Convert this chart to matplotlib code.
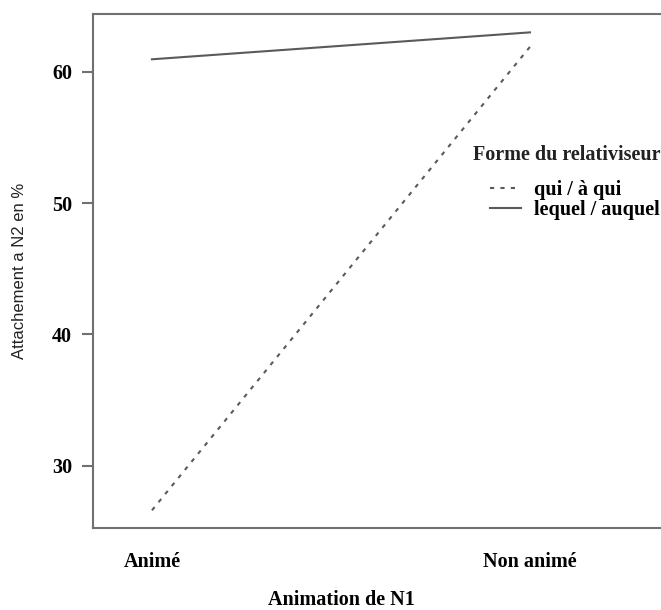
import matplotlib
matplotlib.use("Agg")
import matplotlib.pyplot as plt
import matplotlib.transforms as mtransforms

# données
niveaux_n1 = ["Animé", "Non animé"]
qui_a_qui = [26.6, 61.9]
lequel_auquel = [60.95, 63.0]
y_ticks = [30, 40, 50, 60]

serif = "Liberation Serif"
gris = "#5a5a5a"

fig = plt.figure(figsize=(6.61, 6.10), dpi=100)
W, H = 661, 610
# axes: left 93 px, top 14 px, bottom 528 px, right beyond the picture
ax = fig.add_axes([93 / W, (H - 528) / H, 664 / W, (528 - 14) / H])

x = [1, 2]
ax.plot(x, qui_a_qui, color=gris, lw=1.5, linestyle=(0, (2, 3)),
        label="qui / à qui")
ax.plot(x, lequel_auquel, color=gris, lw=1.5, linestyle="-",
        label="lequel / auquel")

ax.set_xlim(0.844, 0.844 + 664 / 378)
ax.set_ylim(25.25, 64.4)

for s in ax.spines.values():
    s.set_color("#707070")
    s.set_linewidth(1.5)

ax.set_xticks(x)
ax.set_xticklabels(niveaux_n1, fontfamily=serif, fontweight="bold", fontsize=14.5)
ax.tick_params(axis="x", length=0, pad=17)
ax.set_yticks(y_ticks)
ax.set_yticklabels([str(v) for v in y_ticks], fontfamily=serif,
                   fontweight="bold", fontsize=14.5)
ax.tick_params(axis="y", length=8, width=1.5, color="#707070", pad=7)

ax.set_ylabel("Attachement a N2 en %", fontfamily="Liberation Sans",
              fontsize=12, color="#222222")
ax.yaxis.set_label_coords(-(93 - 27) / 664, 0.5)

trans = mtransforms.blended_transform_factory(ax.transData, ax.transAxes)
ax.text(1.5, -(600 - 528) / 514, "Animation de N1", transform=trans,
        ha="center", va="center", fontfamily=serif, fontweight="bold",
        fontsize=14.5)

# titre de la légende
ax.text((473 - 93) / 664, 1 - (155 - 14) / 514, "Forme du relativiseur",
        transform=ax.transAxes, ha="left", va="center", fontfamily=serif,
        fontweight="bold", fontsize=14.5, color="#222222")
ax.legend(loc="upper left", bbox_to_anchor=((490 - 93) / 664, 1 - (180 - 14) / 514),
          frameon=False, borderpad=0, borderaxespad=0,
          handlelength=1.55, handletextpad=0.65, labelspacing=0.0,
          prop={"family": serif, "weight": "bold", "size": 14.5})

fig.savefig("out.png", dpi=100)
